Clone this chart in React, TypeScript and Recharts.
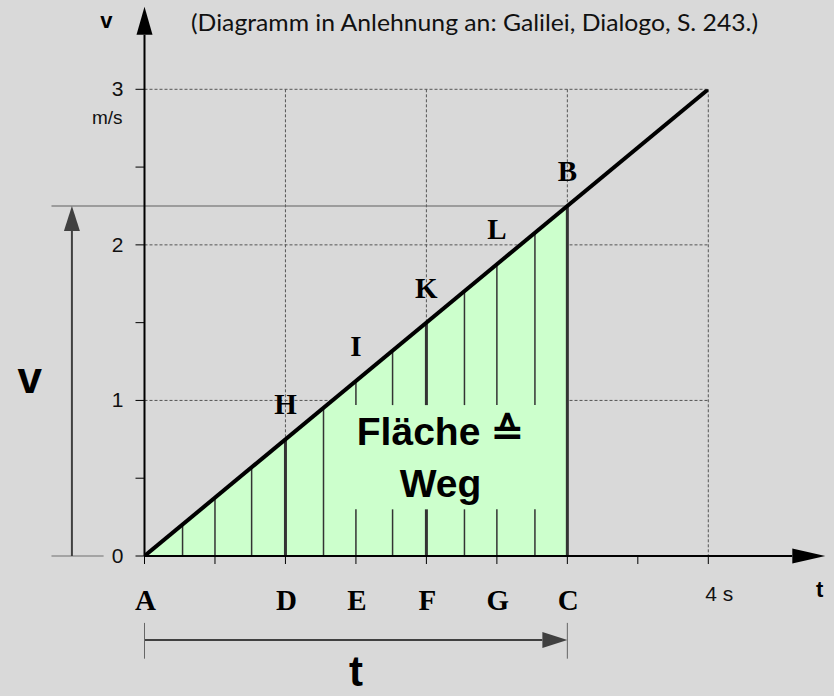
import React from 'react';
import {
  ComposedChart, Line, Area, Scatter, XAxis, YAxis, CartesianGrid,
  ReferenceLine, ReferenceDot
} from 'recharts';

// v-t diagram after Galilei: uniform acceleration, area under the line = distance
const lineData = [
  { t: 0, v: 0 },
  { t: 4, v: 3 },
];

const areaData = [
  { t: 0, v: 0 },
  { t: 3, v: 2.25 },
];

// vertical hatch lines inside the triangle (time, height at the line)
const hatchTimes = [0.27, 0.5, 0.76, 1, 1.27, 1.5, 1.76, 2, 2.27, 2.5, 2.77, 3];
const hatchTops = [0.2, 0.375, 0.57, 0.75, 0.95, 1.125, 1.32, 1.5, 1.7, 1.875, 2.08, 2.25];
const thickTimes = [1, 2, 3];

const xTicks = [0, 0.5, 1, 1.5, 2, 2.5, 3, 3.5, 4];
const xTickLabels = ['A', '', 'D', 'E', 'F', 'G', 'C', '', '4 s'];
const yTicks = [0, 0.5, 1, 1.5, 2, 2.5, 3];
const yTickLabels = ['0', '', '1', '', '2', '', '3'];
const gridX = [0, 1, 2, 3, 4];
const gridY = [0, 1, 2, 3];

const pointNames = ['H', 'I', 'K', 'L', 'B'];
const pointTimes = [1, 1.5, 2, 2.5, 3];
const pointValues = [0.75, 1.125, 1.5, 1.875, 2.25];
const pointData = pointNames.map((name, i) => ({ t: pointTimes[i], v: pointValues[i], name }));

const SANS = '"Liberation Sans", Arial, sans-serif';
const SERIF = '"Liberation Serif", "Times New Roman", serif';
const BG = '#d9d9d9';
const GREEN = '#ccffcc';
const DARK = '#333333';

// where the hatch lines are interrupted by the "Fläche = Weg" text
const textGap = { tFrom: 1.4, tTo: 2.9, vLow: 0.3, vHigh: 0.97 };

const arrow = (color: string, width: number, headLen: number, headHalf: number) => (props: any) => {
  const { x1, y1, x2, y2 } = props;
  const dx = x2 - x1;
  const dy = y2 - y1;
  const len = Math.hypot(dx, dy) || 1;
  const ux = dx / len;
  const uy = dy / len;
  const bx = x2 - ux * headLen;
  const by = y2 - uy * headLen;
  const px = -uy * headHalf;
  const py = ux * headHalf;
  return (
    <g>
      <line x1={x1} y1={y1} x2={bx} y2={by} stroke={color} strokeWidth={width} />
      <polygon points={`${x2},${y2} ${bx + px},${by + py} ${bx - px},${by - py}`} fill={color} />
    </g>
  );
};

const textAt = (text: string, size: number, family: string, anchor = 'middle', weight = 'bold') => (p: any) => (
  <text x={p.cx} y={p.cy} fontSize={size} fontFamily={family} fontWeight={weight}
    textAnchor={anchor} fill="#000">{text}</text>
);

const XTick = (props: any) => {
  const { x, y, payload } = props;
  const i = xTicks.indexOf(payload.value);
  const label = xTickLabels[i];
  if (!label) return null;
  if (label === '4 s') {
    return <text x={x - 3} y={y + 35} fontSize={21} fontFamily={SANS} fill="#111" textAnchor="start">{label}</text>;
  }
  return <text x={x + 1} y={y + 44} fontSize={29} fontFamily={SERIF} fontWeight="bold" fill="#000" textAnchor="middle">{label}</text>;
};

const YTick = (props: any) => {
  const { x, y, payload } = props;
  const i = yTicks.indexOf(payload.value);
  const label = yTickLabels[i];
  if (!label) return null;
  return (
    <g>
      <text x={x} y={y + 7} fontSize={21} fontFamily={SANS} fill="#111" textAnchor="end">{label}</text>
      {payload.value === 3 && (
        <text x={x - 1} y={y + 35} fontSize={19} fontFamily={SANS} fill="#111" textAnchor="end">m/s</text>
      )}
    </g>
  );
};

const seg = (key: string, a: [number, number], b: [number, number], stroke: string, width: number, shape?: any) => (
  <ReferenceLine key={key} xAxisId="t" yAxisId="v" ifOverflow="visible"
    segment={[{ x: a[0], y: a[1] }, { x: b[0], y: b[1] }]}
    stroke={stroke} strokeWidth={width} shape={shape} />
);

export default function App() {
  return (
    <div style={{ position: 'relative', width: 834, height: 696, background: BG }}>
      <style>{'body{margin:0}'}</style>
      <svg width={834} height={40} style={{ position: 'absolute', left: 0, top: 0 }}>
        <text x={191} y={31} fontSize={23} fontFamily="Lato, 'Open Sans', sans-serif" fill="#111"
          textLength={567} lengthAdjust="spacingAndGlyphs">
          (Diagramm in Anlehnung an: Galilei, Dialogo, S. 243.)
        </text>
      </svg>
      <ComposedChart width={834} height={696}
        margin={{ top: 89.3, right: 125.7, bottom: 110, left: 104.5 }}>
        <XAxis xAxisId="grid" orientation="top" type="number" dataKey="t" domain={[0, 4]}
          ticks={gridX} height={0} hide />
        <YAxis yAxisId="gridY" orientation="right" type="number" dataKey="v" domain={[0, 3]}
          ticks={gridY} width={0} hide />
        <XAxis xAxisId="t" type="number" dataKey="t" domain={[0, 4]} ticks={xTicks} height={30}
          axisLine={false} tickLine={{ stroke: '#000', strokeWidth: 1 }} tickSize={8}
          tick={<XTick />} interval={0} allowDataOverflow />
        <YAxis yAxisId="v" type="number" dataKey="v" domain={[0, 3]} ticks={yTicks} width={40}
          axisLine={false} tickLine={{ stroke: '#000', strokeWidth: 1 }} tickSize={9} tickMargin={12}
          tick={<YTick />} interval={0} allowDataOverflow />
        <CartesianGrid xAxisId="grid" yAxisId="gridY" stroke="#555" strokeDasharray="3 2" />

        {/* invisible copy of the line so the grid axes get their domain */}
        <Line xAxisId="grid" yAxisId="gridY" data={lineData} dataKey="v" type="linear"
          stroke="none" dot={false} activeDot={false} isAnimationActive={false} />

        <Area xAxisId="t" yAxisId="v" data={areaData} dataKey="v" type="linear"
          fill={GREEN} fillOpacity={1} stroke="none" isAnimationActive={false} />

        {hatchTimes.map((t, i) => {
          const top = hatchTops[i];
          const w = thickTimes.includes(t) ? 3 : 1.5;
          const broken = t > textGap.tFrom && t < textGap.tTo;
          const parts: [number, number][] = broken ? [[0, textGap.vLow], [textGap.vHigh, top]] : [[0, top]];
          return parts.map(([a, b], j) => seg(`h${i}-${j}`, [t, a], [t, b], DARK, w));
        })}

        {/* helper lines and arrows outside the plot */}
        {seg('level', [-0.66, 2.25], [3, 2.25], '#606060', 1.2)}
        {seg('base', [-0.66, 0], [-0.29, 0], '#707070', 1.2)}
        {seg('varrow', [-0.515, 0], [-0.515, 2.25], '#404040', 2, arrow('#404040', 2, 25, 8))}
        {seg('tarrow', [0, -0.54], [3, -0.54], '#404040', 2, arrow('#404040', 2, 25, 8))}
        {seg('tbar0', [0, -0.43], [0, -0.66], '#666', 1)}
        {seg('tbar3', [3, -0.43], [3, -0.66], '#666', 1)}

        {/* axes with arrowheads */}
        {seg('yaxis', [0, 0], [0, 3.53], '#000', 2, arrow('#000', 2, 28, 8))}
        {seg('xaxis', [0, 0], [4.83, 0], '#000', 2, arrow('#000', 2, 33, 7.5))}

        <Line xAxisId="t" yAxisId="v" data={lineData} dataKey="v" type="linear"
          stroke="#000" strokeWidth={4} dot={false} activeDot={false} isAnimationActive={false} />

        <Scatter xAxisId="t" yAxisId="v" data={pointData} dataKey="v" isAnimationActive={false}
          shape={(p: any) => (
            <text x={p.cx} y={p.cy - 25} fontSize={29} fontFamily={SERIF} fontWeight="bold"
              textAnchor="middle" fill="#000">{p.payload.name}</text>
          )} />

        <ReferenceDot xAxisId="t" yAxisId="v" x={2.1} y={0.715} ifOverflow="visible"
          shape={textAt('Fläche ≙', 39, SANS)} />
        <ReferenceDot xAxisId="t" yAxisId="v" x={2.1} y={0.38} ifOverflow="visible"
          shape={textAt('Weg', 39, SANS)} />
        <ReferenceDot xAxisId="t" yAxisId="v" x={-0.27} y={3.393} ifOverflow="visible"
          shape={textAt('v', 22, SANS)} />
        <ReferenceDot xAxisId="t" yAxisId="v" x={4.79} y={-0.263} ifOverflow="visible"
          shape={textAt('t', 22, SANS)} />
        <ReferenceDot xAxisId="t" yAxisId="v" x={-0.815} y={1.05} ifOverflow="visible"
          shape={textAt('v', 44, SANS)} />
        <ReferenceDot xAxisId="t" yAxisId="v" x={1.5} y={-0.835} ifOverflow="visible"
          shape={textAt('t', 42, SANS)} />
      </ComposedChart>
    </div>
  );
}
